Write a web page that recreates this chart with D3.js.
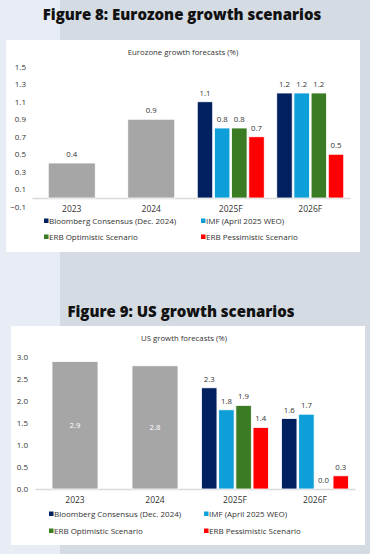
<!DOCTYPE html>
<html>
<head>
<meta charset="utf-8">
<script src="https://cdn.jsdelivr.net/npm/d3@7"></script>
<style>
  html, body { margin: 0; padding: 0; }
  body { width: 370px; height: 554px; overflow: hidden; }
  svg { display: block; font-family: "Open Sans", sans-serif; }
</style>
</head>
<body>
<svg id="page" width="370" height="554"></svg>
<script>
// categories and series
var years = ["2023", "2024", "2025F", "2026F"];
var actualYears = ["2023", "2024"];
var forecastYears = ["2025F", "2026F"];
var seriesNames = ["Bloomberg Consensus (Dec. 2024)", "IMF (April 2025 WEO)", "ERB Optimistic Scenario", "ERB Pessimistic Scenario"];
var seriesColors = ["#002060", "#0e9fd8", "#3b7b24", "#ff0000"];

// eurozone
var euActual = [0.4, 0.9];
var euBloomberg = [1.1, 1.2];
var euImf = [0.8, 1.2];
var euOptimistic = [0.8, 1.2];
var euPessimistic = [0.7, 0.5];
var euTicks = [-0.1, 0.1, 0.3, 0.5, 0.7, 0.9, 1.1, 1.3, 1.5];

// us
var usActual = [2.9, 2.8];
var usBloomberg = [2.3, 1.6];
var usImf = [1.8, 1.7];
var usOptimistic = [1.9, 0.0];
var usPessimistic = [1.4, 0.3];
var usTicks = [0.0, 0.5, 1.0, 1.5, 2.0, 2.5, 3.0];

var svg = d3.select("#page");

// background
svg.append("rect").attr("x", 0).attr("y", 0).attr("width", 370).attr("height", 554).attr("fill", "#e8edf5");
svg.append("rect").attr("x", 60).attr("y", 0).attr("width", 310).attr("height", 554).attr("fill", "#d4dbe3");

function drawChart(c) {
  var g = svg.append("g");

  g.append("text")
    .attr("x", c.figX).attr("y", c.figY)
    .attr("text-anchor", "middle")
    .style("font-size", "15px").style("font-weight", "800")
    .attr("fill", "#111")
    .text(c.figTitle);

  g.append("rect")
    .attr("x", c.panel[0]).attr("y", c.panel[1])
    .attr("width", c.panel[2]).attr("height", c.panel[3])
    .attr("fill", "#fff");

  g.append("text")
    .attr("x", c.titleX).attr("y", c.titleY)
    .attr("text-anchor", "middle")
    .style("font-size", "7.8px")
    .attr("fill", "#333")
    .text(c.title);

  var y = d3.scaleLinear().domain(c.yDomain).range(c.yRange);
  var x = d3.scaleBand().domain(years).range(c.xRange).padding(0);

  // y tick labels (no axis line)
  var yAxis = d3.axisLeft(y).tickValues(c.ticks).tickSize(0).tickPadding(0)
    .tickFormat(d3.format(".1f"));
  var ya = g.append("g").attr("transform", "translate(" + c.yLabelX + ",0)").call(yAxis);
  ya.select(".domain").remove();
  ya.selectAll("text").style("font-size", "8px").attr("fill", "#333").style("font-family", "'Open Sans', sans-serif");

  // x axis
  var xAxis = d3.axisBottom(x).tickSize(0).tickPadding(8);
  var xa = g.append("g").attr("transform", "translate(0," + y(0) + ")").call(xAxis);
  xa.select(".domain").attr("stroke", "#d9d9d9").attr("stroke-width", 1.5);
  xa.selectAll("text").style("font-size", "8.5px").attr("fill", "#333").style("font-family", "'Open Sans', sans-serif");

  // actual years
  var actual = actualYears.map(function(yr, i) { return { year: yr, value: c.actual[i] }; });
  var gw = c.grayWidth;
  g.selectAll(".act").data(actual).enter().append("rect")
    .attr("x", function(d) { return x(d.year) + x.bandwidth() / 2 - gw / 2; })
    .attr("y", function(d) { return y(Math.max(0, d.value)); })
    .attr("width", gw)
    .attr("height", function(d) { return Math.abs(y(d.value) - y(0)); })
    .attr("fill", "#a6a6a6").attr("stroke", "#fff").attr("stroke-width", 0.8);

  g.selectAll(".actlab").data(actual).enter().append("text")
    .attr("x", function(d) { return x(d.year) + x.bandwidth() / 2; })
    .attr("y", function(d) { return c.inside ? (y(d.value) + y(0)) / 2 + 3 : y(d.value) - 6; })
    .attr("text-anchor", "middle")
    .style("font-size", "7.8px")
    .attr("fill", c.inside ? "#fff" : "#333")
    .text(function(d) { return d3.format(".1f")(d.value); });

  // forecast groups
  var sub = d3.scaleBand().domain(seriesNames).range([0, c.groupWidth]).paddingInner(0.1);
  var fc = [];
  forecastYears.forEach(function(yr, i) {
    c.series.forEach(function(s, j) {
      fc.push({ year: yr, name: seriesNames[j], color: seriesColors[j], value: s[i] });
    });
  });
  g.selectAll(".fc").data(fc).enter().append("rect")
    .attr("x", function(d) { return x(d.year) + x.bandwidth() / 2 - c.groupWidth / 2 + sub(d.name); })
    .attr("y", function(d) { return y(d.value); })
    .attr("width", sub.bandwidth())
    .attr("height", function(d) { return y(0) - y(d.value); })
    .attr("fill", function(d) { return d.color; })
    .attr("stroke", "#fff").attr("stroke-width", 0.8);

  g.selectAll(".fclab").data(fc).enter().append("text")
    .attr("x", function(d) { return x(d.year) + x.bandwidth() / 2 - c.groupWidth / 2 + sub(d.name) + sub.bandwidth() / 2; })
    .attr("y", function(d) { return y(d.value) - 6; })
    .attr("text-anchor", "middle")
    .style("font-size", "7.8px")
    .attr("fill", "#333")
    .text(function(d) { return d3.format(".1f")(d.value); });

  // legend
  var lg = g.selectAll(".leg").data(seriesNames).enter().append("g")
    .attr("transform", function(d, i) {
      return "translate(" + (i % 2 ? c.legX[1] : c.legX[0]) + "," + c.legY[Math.floor(i / 2)] + ")";
    });
  lg.append("rect").attr("x", 0).attr("y", -5.5).attr("width", 4.5).attr("height", 4.5)
    .attr("fill", function(d, i) { return seriesColors[i]; });
  lg.append("text").attr("x", 5).attr("y", 0)
    .style("font-size", "8px").attr("fill", "#333")
    .text(function(d) { return d; });
}

drawChart({
  figTitle: "Figure 8: Eurozone growth scenarios", figX: 182, figY: 20,
  panel: [6, 40, 354, 212],
  title: "Eurozone growth forecasts (%)", titleX: 183, titleY: 55,
  yDomain: [0, 1.5], yRange: [198, 66.75], ticks: euTicks, yLabelX: 26,
  xRange: [32, 350], grayWidth: 47, groupWidth: 67,
  actual: euActual, inside: false,
  series: [euBloomberg, euImf, euOptimistic, euPessimistic],
  legX: [44, 201], legY: [224, 240]
});

drawChart({
  figTitle: "Figure 9: US growth scenarios", figX: 181, figY: 317,
  panel: [11, 326, 354, 219],
  title: "US growth forecasts (%)", titleX: 184, titleY: 341,
  yDomain: [0, 3], yRange: [489, 357], ticks: usTicks, yLabelX: 28,
  xRange: [35, 355], grayWidth: 46, groupWidth: 67,
  actual: usActual, inside: true,
  series: [usBloomberg, usImf, usOptimistic, usPessimistic],
  legX: [49, 204], legY: [517, 534]
});
</script>
</body>
</html>
